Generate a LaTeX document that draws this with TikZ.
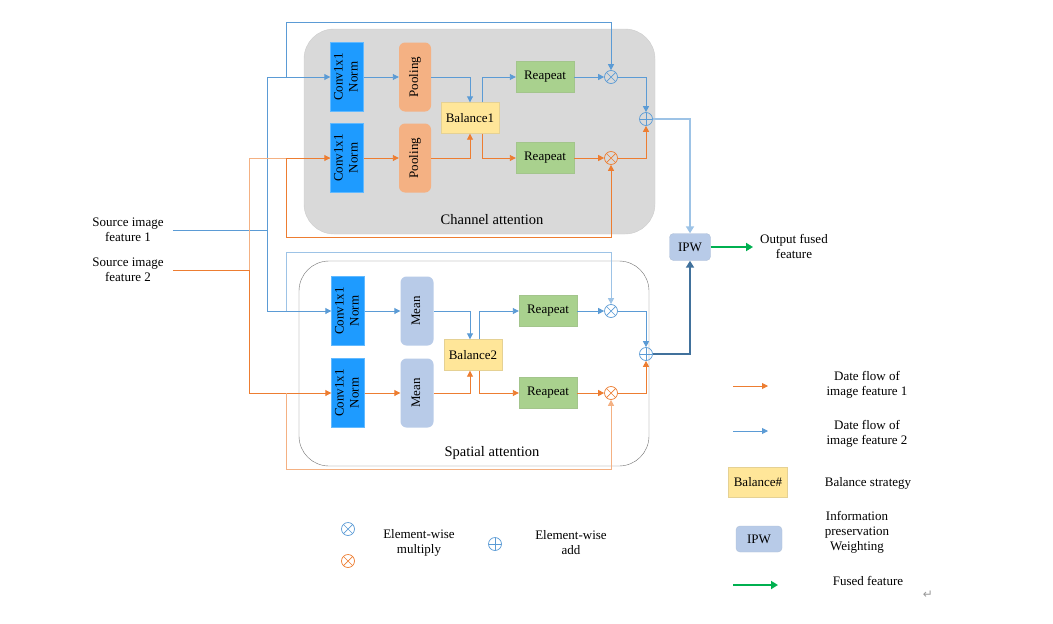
\documentclass[tikz,border=0pt]{standalone}
\usepackage{fontspec}
\setmainfont{Liberation Serif}
\newfontfamily\symfont{DejaVu Sans}
\usetikzlibrary{
    arrows.meta,
    calc,
    positioning
}
\definecolor{lineb}{HTML}{5B9BD5}
\definecolor{lineo}{HTML}{ED7D31}
\definecolor{linebl}{HTML}{9DC3E6}
\definecolor{lineol}{HTML}{F4B183}
\definecolor{linebd}{HTML}{41719C}
\definecolor{convc}{HTML}{1E9BFF}
\definecolor{poolc}{HTML}{F4B183}
\definecolor{balc}{HTML}{FFE699}
\definecolor{repc}{HTML}{A9D18E}
\definecolor{meanc}{HTML}{B8CBE8}
\definecolor{fusec}{HTML}{00B050}
\newcommand{\vlab}[1]{\rotatebox{90}{\begin{tabular}{@{}c@{}}#1\end{tabular}}}
\tikzset{conv/.style={inner sep=0pt, minimum width=33, minimum height=69, fill=convc, draw=convc!70}}
\tikzset{pool/.style={inner sep=0pt, rounded corners=6, minimum width=32, minimum height=69, fill=poolc}}
\tikzset{meanbox/.style={inner sep=0pt, rounded corners=6, minimum width=33, minimum height=69, fill=meanc}}
\tikzset{bal/.style={inner sep=0pt, minimum width=58, minimum height=31, fill=balc, draw=balc!80!gray}}
\tikzset{rep/.style={inner sep=0pt, minimum width=58, minimum height=31, fill=repc, draw=repc!85!gray}}
\tikzset{ipwbox/.style={inner sep=0pt, rounded corners=4, minimum width=41, minimum height=27, fill=meanc, draw=meanc!85!gray}}
\tikzset{mulop/.style={circle, inner sep=0pt, minimum size=13, draw=#1, line width=0.7,
    path picture={\draw[#1, line width=0.7] (path picture bounding box.north west) -- (path picture bounding box.south east)
        (path picture bounding box.south west) -- (path picture bounding box.north east);}}}
\tikzset{addop/.style={circle, inner sep=0pt, minimum size=13, draw=#1, line width=0.7,
    path picture={\draw[#1, line width=0.7] (path picture bounding box.north) -- (path picture bounding box.south)
        (path picture bounding box.west) -- (path picture bounding box.east);}}}
\tikzset{bl/.style={draw=lineb, line width=0.9}}
\tikzset{bll/.style={draw=linebl, line width=0.9}}
\tikzset{orl/.style={draw=lineo, line width=0.9}}
\tikzset{orll/.style={draw=lineol, line width=0.9}}
\tikzset{tip/.style={-{Triangle[length=6,width=6]}}}
\tikzset{txt/.style={align=center, inner sep=1pt}}

\begin{document}
\begin{tikzpicture}[x=1pt, y=-1pt, font=\fontsize{13}{15}\selectfont]
    \useasboundingbox (0,0) rectangle (1053,624);

    \draw[fill=black!15, draw=black!20, rounded corners=30] (304,29) rectangle (655,234);
    \draw[fill=white, draw=black!55, rounded corners=30] (299,261) rectangle (649,466);
    \node[txt, font=\fontsize{14.5}{16}\selectfont] (cha) at (492,220) {Channel attention};
    \node[txt, font=\fontsize{14.5}{16}\selectfont] (spa) at (492,453) {Spatial attention};

    \node[txt] (s1) at (128,230) {Source image\\feature 1};
    \node[txt] (s2) at (128,270) {Source image\\feature 2};

    \node[conv] (c1) at (347,77) {\vlab{Conv1x1\\Norm}};
    \node[conv] (c2) at (347,158) {\vlab{Conv1x1\\Norm}};
    \node[pool] (p1) at (415,77) {\vlab{Pooling}};
    \node[pool] (p2) at (415,158) {\vlab{Pooling}};
    \node[bal] (b1) at (470,118) {Balance1};
    \node[rep] (r1) at (545,77) {Reapeat};
    \node[rep] (r2) at (545,158) {Reapeat};
    \node[mulop=lineb] (m1) at (611,77) {};
    \node[mulop=lineo] (m2) at (611,158) {};
    \node[addop=lineb] (a1) at (646,119) {};

    \node[conv] (c3) at (348,311) {\vlab{Conv1x1\\Norm}};
    \node[conv] (c4) at (348,393) {\vlab{Conv1x1\\Norm}};
    \node[meanbox] (e1) at (417,311) {\vlab{Mean}};
    \node[meanbox] (e2) at (417,393) {\vlab{Mean}};
    \node[bal] (b2) at (473,355) {Balance2};
    \node[rep] (r3) at (548,311) {Reapeat};
    \node[rep] (r4) at (548,393) {Reapeat};
    \node[mulop=lineb] (m3) at (611,311) {};
    \node[mulop=lineo] (m4) at (611,393) {};
    \node[addop=lineb] (a2) at (646,354) {};

    \node[ipwbox] (ipw) at (690,247) {IPW};
    \node[txt] (out) at (794,246) {Output fused\\feature};

    \coordinate (bt) at (267,0);
    \coordinate (ot) at (249,0);
    \coordinate (bp) at (286,0);

    % inputs
    \draw[bl, shorten <=8] (s1.east) -- (s1.east -| bt);
    \draw[bl, tip] (s1.east -| bt) |- (c1.west);
    \draw[bl, tip] (s1.east -| bt) |- (c3.west);
    \draw[orl, shorten <=8] (s2.east) -- (s2.east -| ot);
    \draw[orll] (s2.east -| ot) |- (c2.west);
    \draw[orl, tip] (c2.west -| bp) -- (c2.west);
    \draw[orl, tip] (s2.east -| ot) |- (c4.west);

    % skip paths
    \draw[bl, tip] (c1.west -| bp) -- ++(0,-55) -| (m1.north);
    \draw[orl, tip] (c2.west -| bp) -- ++(0,79) -| (m2.south);
    \draw[bll, tip] (c3.west -| bp) -- ++(0,-59) -| (m3.north);
    \draw[orll, tip] (c4.west -| bp) -- ++(0,76) -| (m4.south);

    % channel attention
    \draw[bl, tip] (c1) -- (p1);
    \draw[orl, tip] (c2) -- (p2);
    \draw[bl, tip] (p1.east) -| (b1.north);
    \draw[orl, tip] (p2.east) -| (b1.south);
    \draw[bl, tip] ([xshift=12]b1.north) |- (r1.west);
    \draw[orl, tip] ([xshift=12]b1.south) |- (r2.west);
    \draw[bl, tip] (r1) -- (m1);
    \draw[orl, tip] (r2) -- (m2);
    \draw[bl, tip] (m1.east) -| (a1.north);
    \draw[orl, tip] (m2.east) -| (a1.south);

    % spatial attention
    \draw[bl, tip] (c3) -- (e1);
    \draw[orl, tip] (c4) -- (e2);
    \draw[bl, tip] (e1.east) -| ([xshift=-3]b2.north);
    \draw[orl, tip] (e2.east) -| ([xshift=-3]b2.south);
    \draw[bl, tip] ([xshift=6]b2.north) |- (r3.west);
    \draw[orl, tip] ([xshift=6]b2.south) |- (r4.west);
    \draw[bl, tip] (r3) -- (m3);
    \draw[orl, tip] (r4) -- (m4);
    \draw[bl, tip] (m3.east) -| (a2.north);
    \draw[orl, tip] (m4.east) -| (a2.south);

    % fusion
    \draw[draw=linebl, line width=2.4, -{Triangle[length=7,width=8]}] (a1.east) -| (ipw.north);
    \draw[draw=linebd, line width=2.6, -{Triangle[length=7,width=8]}] (a2.east) -| (ipw.south);
    \draw[draw=fusec, line width=2.4, -{Triangle[length=7,width=8]}, shorten >=6] (ipw.east) -- (ipw.east -| out.west);

    % legend
    \node[mulop=lineb] (lm1) at (348,529) {};
    \node[mulop=lineo] (lm2) at (348,561) {};
    \node[txt] (lt6) at (419,543) {Element-wise\\multiply};
    \node[addop=lineb] (la1) at (495,544) {};
    \node[txt] (lt7) at (571,543) {Element-wise\\add};

    \coordinate (lo1) at (733,386);
    \coordinate (lo2) at (768,386);
    \draw[orl, tip] (lo1) -- (lo2);
    \node[txt] (lt1) at (867,385) {Date flow of\\image feature 1};
    \coordinate (lb1) at (733,431);
    \coordinate (lb2) at (768,431);
    \draw[bl, tip] (lb1) -- (lb2);
    \node[txt] (lt2) at (867,434) {Date flow of\\image feature 2};
    \node[bal, minimum width=59, minimum height=30] (lbal) at (758,482) {Balance\#};
    \node[txt] (lt3) at (868,483) {Balance strategy};
    \node[ipwbox, minimum width=46, minimum height=26] (lipw) at (759,539) {IPW};
    \node[txt] (lt4) at (857,532) {Information\\preservation\\Weighting};
    \coordinate (lg1) at (733,585);
    \coordinate (lg2) at (778,585);
    \draw[draw=fusec, line width=2.4, -{Triangle[length=7,width=8]}] (lg1) -- (lg2);
    \node[txt] (lt5) at (868,581) {Fused feature};
    \node[txt, text=black!40, font=\symfont\fontsize{12}{14}\selectfont] (ret) at (928,595) {↵};
\end{tikzpicture}
\end{document}
